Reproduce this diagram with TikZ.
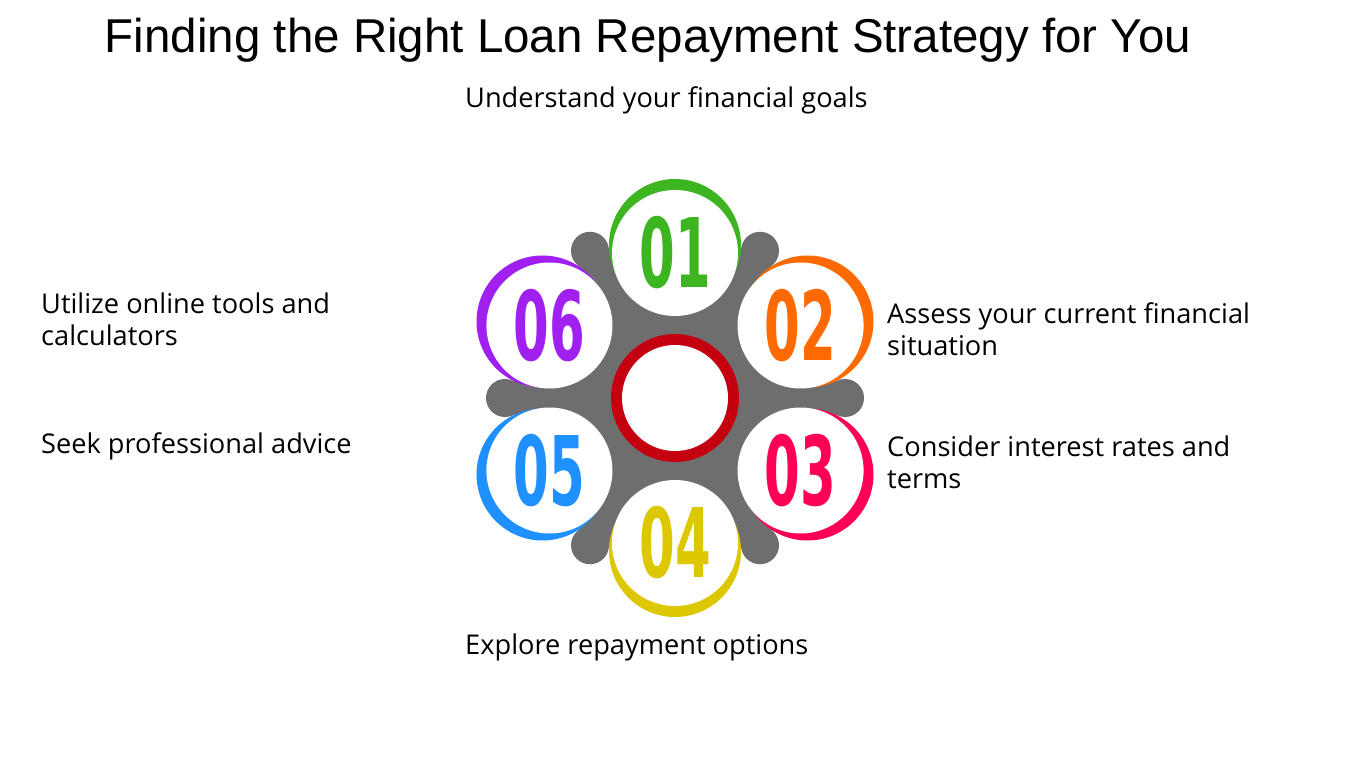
\documentclass[tikz,border=0pt]{standalone}
\usepackage{fontspec}
\usetikzlibrary{calc}
\setmainfont{Open Sans}
\newfontfamily\titlefont{Liberation Sans}
\newfontfamily\digitfont{DejaVu Sans Condensed}[BoldFont={DejaVu Sans Condensed Bold}]
\definecolor{cA}{HTML}{3CB521}
\definecolor{cB}{HTML}{FF6A00}
\definecolor{cC}{HTML}{FF0055}
\definecolor{cD}{HTML}{DDC800}
\definecolor{cE}{HTML}{1E90FF}
\definecolor{cF}{HTML}{A020F0}
\definecolor{ring}{HTML}{C40010}
\definecolor{gr}{HTML}{6E6E6E}
\begin{document}
\begin{tikzpicture}[x=1pt,y=-1pt,
  lbl/.style={anchor=west,font=\fontsize{27.2}{32}\selectfont,align=left,inner sep=0pt},
  dig/.style={font=\digitfont\bfseries\fontsize{60}{60}\selectfont,inner sep=0pt}]
\useasboundingbox[fill=white] (0,0) rectangle (1350,759);
\node[font=\titlefont\fontsize{47.5}{50}\selectfont] (title) at (648,40) {Finding the Right Loan Repayment Strategy for You};
% gray body
\coordinate (ctr) at (675,398);
\fill[gr] (ctr) circle (135);
\foreach \a/\n in {0/k1,60/k2,120/k3,180/k4,240/k5,300/k6}{
  \draw[gr,line width=34pt] (ctr) -- ++(\a:170) coordinate (\n);
  \fill[gr] (\n) circle (19);
}
% circles
\foreach \ang/\c/\t/\nm in {-90/cA/01/c1,-30/cB/02/c2,30/cC/03/c3,90/cD/04/c4,150/cE/05/c5,210/cF/06/c6}{
  \coordinate (\nm) at ($(ctr)+(\ang:145)$);
  \fill[\c] ($(\nm)+(\ang:8)$) circle (66);
  \fill[white] (\nm) circle (63);
  \node[dig,text=\c] at (\nm) {\scalebox{0.95}[1.6]{\t}};
}
\fill[ring] (ctr) circle (64);
\fill[white] (ctr) circle (53);
\node[lbl] (l1) at (465,100) {Understand your financial goals};
\node[lbl] (l2) at (887,329) {Assess your current financial\\situation};
\node[lbl] (l3) at (887,462) {Consider interest rates and\\terms};
\node[lbl] (l4) at (465,647) {Explore repayment options};
\node[lbl] (l5) at (41,446) {Seek professional advice};
\node[lbl] (l6) at (41,319) {Utilize online tools and\\calculators};
\end{tikzpicture}
\end{document}
